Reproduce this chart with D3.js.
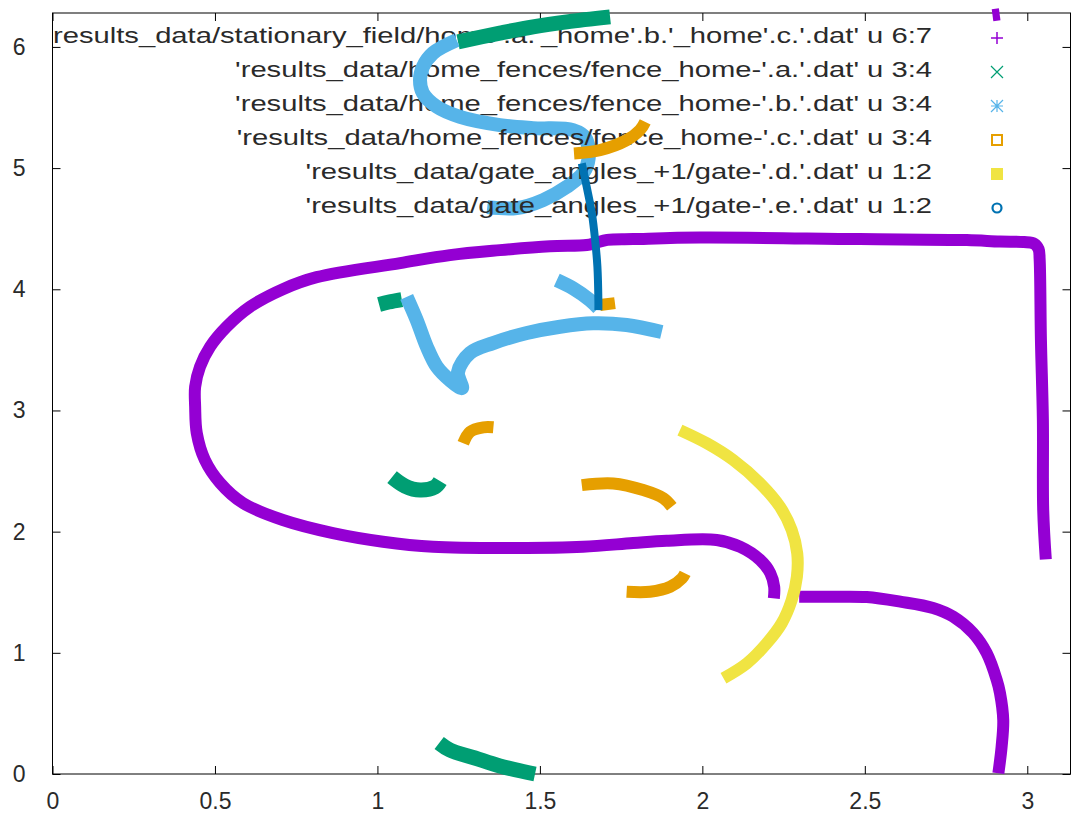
<!DOCTYPE html>
<html><head><meta charset="utf-8">
<script src="https://cdn.jsdelivr.net/npm/d3@7"></script>
<style>html,body{margin:0;padding:0;background:#fff;}svg{display:block;}</style>
</head><body><svg id="chart" width="1072" height="823"></svg>
<script>
// ---------- data ----------
const xTicks = [0, 0.5, 1, 1.5, 2, 2.5, 3];
const yTicks = [0, 1, 2, 3, 4, 5, 6];
const xRange = [0, 3.133];
const yRange = [0, 6.28];

const legendLabels = [
  "results_data/stationary_field/home'.a.'_home'.b.'_home'.c.'.dat' u 6:7",
  "'results_data/home_fences/fence_home-'.a.'.dat' u 3:4",
  "'results_data/home_fences/fence_home-'.b.'.dat' u 3:4",
  "'results_data/home_fences/fence_home-'.c.'.dat' u 3:4",
  "'results_data/gate_angles_+1/gate-'.d.'.dat' u 1:2",
  "'results_data/gate_angles_+1/gate-'.e.'.dat' u 1:2"
];
const seriesColors = ["#9400d3", "#009e73", "#56b4e9", "#e69f00", "#f0e442", "#0072b2"];
const seriesMarkers = ["plus", "cross", "star", "square", "filledSquare", "circle"];

// stationary field (purple)
const fieldLoop = [[3.057,1.771],[3.049,2.178],[3.048,2.921],[3.042,3.581],[3.038,4.250],[3.035,4.330],
  [3.022,4.375],[2.990,4.390],[2.916,4.394],[2.814,4.406],[2.485,4.414],[1.993,4.427],[1.787,4.414],
  [1.707,4.408],[1.670,4.381],
  [1.644,4.365],[1.531,4.355],[1.377,4.323],[1.223,4.282],[1.070,4.216],[0.813,4.100],[0.709,4.001],
  [0.608,3.856],[0.536,3.691],[0.485,3.526],[0.454,3.361],[0.439,3.196],[0.439,3.031],[0.444,2.813],
  [0.469,2.591],[0.516,2.401],[0.586,2.236],[0.709,2.096],[0.863,1.988],[1.017,1.917],[1.171,1.875],
  [1.429,1.865],[1.633,1.875],[1.787,1.906],[1.890,1.925],[2.044,1.931],[2.116,1.875],[2.178,1.766],
  [2.209,1.658],[2.221,1.545],[2.220,1.450]];
const fieldTail = [[2.298,1.463],[2.402,1.463],[2.506,1.460],[2.609,1.422],[2.710,1.370],[2.772,1.298],
  [2.833,1.163],[2.875,0.998],[2.906,0.776],[2.916,0.668],[2.926,0.446],[2.921,0.225],[2.911,0.006]];
const fieldTop = [[2.893,6.262],[2.915,6.270]];

// fence a (green)
const fenceA1 = [[1.248,6.042],[1.377,6.114],[1.479,6.166],[1.583,6.207],[1.716,6.248]];
const fenceA2 = [[1.005,3.875],[1.035,3.895],[1.075,3.915]];
const fenceA3 = [[1.045,2.450],[1.085,2.376],[1.131,2.343],[1.177,2.368],[1.193,2.417]];
const fenceA4 = [[1.190,0.256],[1.223,0.198],[1.300,0.132],[1.377,0.066],[1.485,0.000]];

// fence b (light blue)
const fenceB1 = [[1.244,6.056],[1.171,5.949],[1.140,5.836],[1.131,5.726],[1.140,5.619],[1.183,5.506],
  [1.254,5.423],[1.377,5.355],[1.479,5.330],[1.602,5.314],[1.640,5.250],[1.650,5.080],[1.633,4.959],
  [1.583,4.846],[1.510,4.736],[1.429,4.670],[1.338,4.678]];
const fenceB2 = [[1.090,3.938],[1.121,3.746],[1.152,3.526],[1.183,3.361],[1.223,3.251],[1.260,3.185],
  [1.248,3.317],[1.285,3.474],[1.356,3.556],[1.460,3.639],[1.562,3.691],[1.664,3.719],[1.767,3.705],[1.875,3.647]];
const fenceB3 = [[1.552,4.076],[1.603,4.007],[1.654,3.911],[1.680,3.845]];

// fence c (orange)
const fenceC1 = [[1.605,5.121],[1.685,5.149],[1.767,5.231],[1.808,5.314],[1.824,5.382]];
const fenceC2 = [[1.685,3.870],[1.731,3.886]];
const fenceC3 = [[1.264,2.729],[1.285,2.824],[1.326,2.861],[1.357,2.861]];
const fenceC4 = [[1.629,2.384],[1.726,2.398],[1.818,2.343],[1.880,2.275],[1.906,2.205]];
const fenceC5 = [[1.767,1.504],[1.839,1.504],[1.901,1.545],[1.937,1.615],[1.947,1.656]];

// gate d (yellow)
const gateD = [[1.931,2.838],[2.014,2.729],[2.095,2.591],[2.178,2.398],[2.239,2.205],[2.275,2.013],
  [2.292,1.821],[2.291,1.628],[2.275,1.436],[2.244,1.243],[2.198,1.078],[2.137,0.913],[2.065,0.790]];

// gate e (dark blue)
const gateE = [[1.629,5.039],[1.644,4.846],[1.660,4.626],[1.670,4.406],[1.677,4.186],[1.680,3.911],[1.680,3.828]];

const seriesSegments = [
  [fieldLoop, fieldTail, fieldTop],
  [fenceA1, fenceA2, fenceA3, fenceA4],
  [fenceB1, fenceB2, fenceB3],
  [fenceC1, fenceC2, fenceC3, fenceC4, fenceC5],
  [gateD],
  [gateE]
];
const seriesWidths = [12, 15, 14, 12, 12, 8];

// ---------- drawing ----------
const svg = d3.select("#chart");
const L = 52.5, R = 1070.5, T = 13, B = 774;
const x = d3.scaleLinear().domain(xRange).range([L, R]);
const y = d3.scaleLinear().domain(yRange).range([B, T]);
const font = "'Liberation Sans', Arial, sans-serif";
const textColor = "#2a2a2a";

// frame
svg.append("rect").attr("x", L).attr("y", T).attr("width", R - L).attr("height", B - T)
  .attr("fill", "none").attr("stroke", "#000").attr("stroke-width", 1);

// axes with inward ticks (mirrored)
const tickLen = 8;
const gx = svg.append("g").attr("transform", `translate(0,${B})`)
  .call(d3.axisBottom(x).tickValues(xTicks).tickSize(-tickLen).tickPadding(19).tickFormat(d3.format("")));
const gxTop = svg.append("g").attr("transform", `translate(0,${T})`)
  .call(d3.axisTop(x).tickValues(xTicks).tickSize(-tickLen).tickFormat(""));
const gy = svg.append("g").attr("transform", `translate(${L},0)`)
  .call(d3.axisLeft(y).tickValues(yTicks).tickSize(-tickLen).tickPadding(27).tickFormat(d3.format("")));
const gyR = svg.append("g").attr("transform", `translate(${R},0)`)
  .call(d3.axisRight(y).tickValues(yTicks).tickSize(-tickLen).tickFormat(""));
[gx, gxTop, gy, gyR].forEach(g => {
  g.select(".domain").remove();
  g.selectAll(".tick line").attr("stroke", "#000");
  g.selectAll("text").attr("font-family", font).attr("font-size", 23).attr("fill", textColor);
});

const line = d3.line().x(d => x(d[0])).y(d => y(d[1])).curve(d3.curveCatmullRom.alpha(0.5));

function marker(g, type, cx, cy, color) {
  const s = 6;
  if (type === "plus") {
    g.append("path").attr("d", `M${cx - s},${cy}H${cx + s}M${cx},${cy - s}V${cy + s}`).attr("stroke", color).attr("stroke-width", 1.5);
  } else if (type === "cross") {
    g.append("path").attr("d", `M${cx - s},${cy - s}L${cx + s},${cy + s}M${cx - s},${cy + s}L${cx + s},${cy - s}`).attr("stroke", color).attr("stroke-width", 1.2);
  } else if (type === "star") {
    g.append("path").attr("d", `M${cx - s},${cy}H${cx + s}M${cx},${cy - s}V${cy + s}M${cx - s},${cy - s}L${cx + s},${cy + s}M${cx - s},${cy + s}L${cx + s},${cy - s}`).attr("stroke", color).attr("stroke-width", 1.2);
  } else if (type === "square") {
    g.append("rect").attr("x", cx - 5).attr("y", cy - 5).attr("width", 10).attr("height", 10).attr("fill", "none").attr("stroke", color).attr("stroke-width", 2);
  } else if (type === "filledSquare") {
    g.append("rect").attr("x", cx - 6).attr("y", cy - 6).attr("width", 12).attr("height", 12).attr("fill", color);
  } else if (type === "circle") {
    g.append("circle").attr("cx", cx).attr("cy", cy).attr("r", 4.5).attr("fill", "none").attr("stroke", color).attr("stroke-width", 2.2);
  }
}

const legendRight = 932, legendLeft0 = 53, markerX = 997, rowY0 = 35, rowStep = 34;
let widthScale = null;
seriesSegments.forEach((segs, i) => {
  const g = svg.append("g");
  const ry = rowY0 + i * rowStep;
  const t = g.append("text").attr("x", legendRight).attr("y", ry).attr("text-anchor", "end")
    .attr("dominant-baseline", "central").attr("font-family", font).attr("font-size", 22)
    .attr("fill", textColor).text(legendLabels[i]);
  const w = t.node().getComputedTextLength();
  if (widthScale === null) widthScale = (legendRight - legendLeft0) / w;
  t.attr("textLength", w * widthScale).attr("lengthAdjust", "spacingAndGlyphs");
  marker(g, seriesMarkers[i], markerX, ry + 3, seriesColors[i]);
  segs.forEach(seg => {
    g.append("path").datum(seg).attr("d", line).attr("fill", "none")
      .attr("stroke", seriesColors[i]).attr("stroke-width", seriesWidths[i])
      .attr("stroke-linejoin", "round").attr("stroke-linecap", "butt");
  });
});
</script></body></html>
